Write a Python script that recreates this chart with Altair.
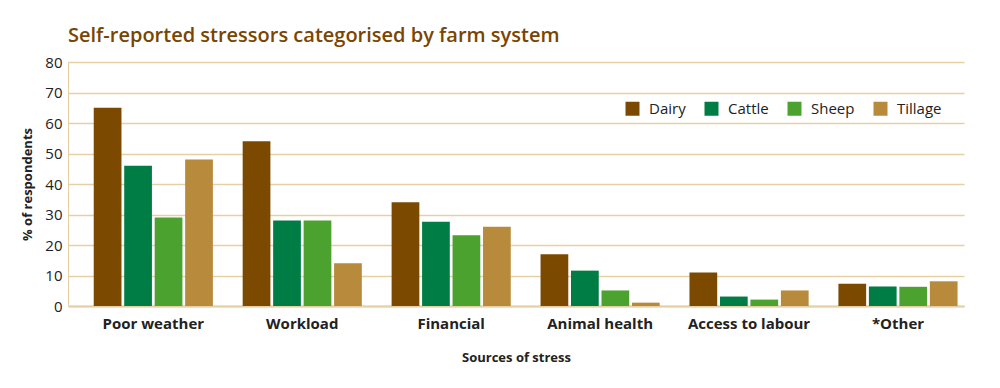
import altair as alt
import pandas as pd

categories = ["Poor weather", "Workload", "Financial", "Animal health", "Access to labour", "*Other"]
systems = ["Dairy", "Cattle", "Sheep", "Tillage"]
dairy = [65, 54, 34, 17, 11, 7.3]
cattle = [46, 28, 27.6, 11.6, 3.1, 6.4]
sheep = [29, 28, 23.2, 5.1, 2.1, 6.3]
tillage = [48, 14, 26, 1.1, 5.1, 8.1]
colors = ["#7B4A00", "#007D45", "#4CA22F", "#B88A3B"]

rows = []
for sys_name, vals in zip(systems, [dairy, cattle, sheep, tillage]):
    for c, v in zip(categories, vals):
        rows.append({"source": c, "system": sys_name, "value": v})
df = pd.DataFrame(rows)

FONT = "Open Sans"
TAN = "#E6CFA3"

chart = alt.Chart(df).mark_bar().encode(
    x=alt.X("source:N", sort=categories, title="Sources of stress",
            scale=alt.Scale(paddingInner=0.2, paddingOuter=0.108, align=0.8),
            axis=alt.Axis(labelAngle=0, labelFontSize=15, labelFontWeight="bold",
                          labelColor="#222", labelPadding=10, ticks=False,
                          domainColor=TAN, domainWidth=2,
                          titleFontSize=13, titleFontWeight="bold", titleColor="#222",
                          titlePadding=20)),
    xOffset=alt.XOffset("system:N", sort=systems,
                        scale=alt.Scale(paddingInner=0.09, paddingOuter=0)),
    y=alt.Y("value:Q", title="% of respondents",
            scale=alt.Scale(domain=[0, 80]),
            axis=alt.Axis(values=[0, 10, 20, 30, 40, 50, 60, 70, 80], ticks=False,
                          labelFontSize=15, labelColor="#222", labelPadding=6,
                          domainColor=TAN, gridColor=TAN, gridWidth=1.5,
                          titleFontSize=13, titleFontWeight="bold", titleColor="#222",
                          titlePadding=10)),
    color=alt.Color("system:N", sort=systems,
                    scale=alt.Scale(domain=systems, range=colors),
                    legend=alt.Legend(title=None, orient="none", direction="horizontal",
                                      legendX=557, legendY=39, symbolType="square",
                                      symbolSize=196, symbolStrokeWidth=0,
                                      symbolOpacity=1,
                                      labelFontSize=15, labelColor="#222",
                                      labelOffset=9, columnPadding=18, padding=0)),
).properties(
    width=896, height=244,
    padding={"left": 60, "top": 54, "right": 28, "bottom": 74},
    autosize=alt.AutoSizeParams(type="none"),
    title=alt.TitleParams("Self-reported stressors categorised by farm system",
                          anchor="start", frame="group", fontSize=20, fontWeight=600,
                          color="#7A4500", offset=9, font=FONT),
).configure(font=FONT).configure_view(stroke=None)

chart.save("out.html", embed_options={"renderer": "svg", "actions": False})
